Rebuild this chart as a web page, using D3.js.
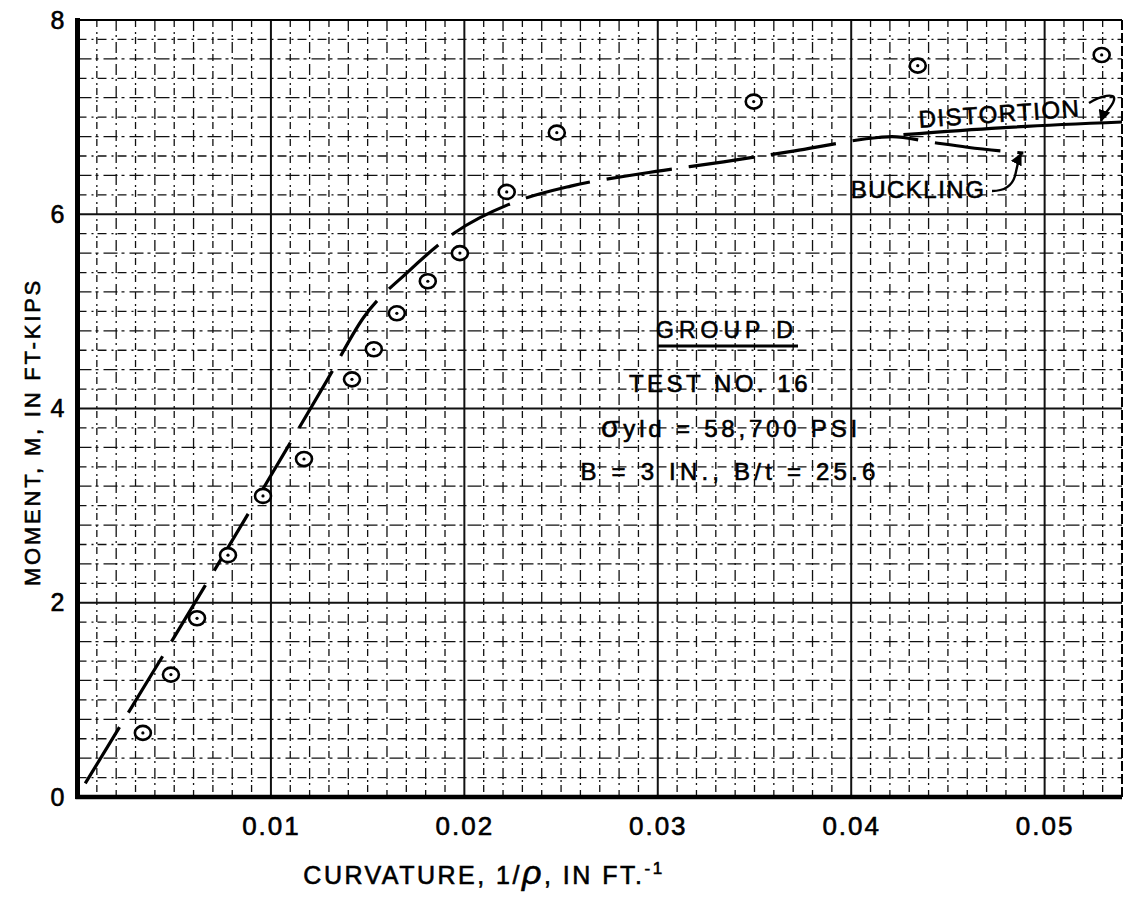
<!DOCTYPE html>
<html>
<head>
<meta charset="utf-8">
<script src="https://cdn.jsdelivr.net/npm/d3@7"></script>
<style>
  body { margin: 0; background: #fff; }
  svg { display: block; }
  text { font-family: "Liberation Sans", Arial, sans-serif; fill: #000; stroke: #000; stroke-width: 0.6px; }
</style>
</head>
<body>
<script>
// Data

// test points (curvature 1/rho in ft^-1, moment in ft-kips)
var curvature = [0.00338, 0.00483, 0.00618, 0.00778, 0.00959, 0.01171, 0.01419, 0.01532,
                 0.01651, 0.01811, 0.01977, 0.02219, 0.02478, 0.03496, 0.04344, 0.05295];
var moment = [0.66, 1.26, 1.84, 2.49, 3.10, 3.48, 4.30, 4.61,
              4.98, 5.31, 5.60, 6.23, 6.84, 7.16, 7.53, 7.64];

// predicted curve (dashed) up to the split
var predX = [0.0004, 0.0051, 0.0129, 0.0148, 0.0171, 0.0195, 0.0224, 0.0255, 0.0292, 0.0334, 0.0373, 0.0414];
var predY = [0.14, 1.68, 4.29, 4.94, 5.41, 5.81, 6.11, 6.29, 6.42, 6.54, 6.66, 6.79];

// buckling branch (dashed, falling)
var buckX = [0.0414, 0.0421, 0.0442, 0.0460, 0.0489];
var buckY = [6.79, 6.80, 6.74, 6.69, 6.63];

// distortion branch (solid, rising)
var distX = [0.0427, 0.0477, 0.0540];
var distY = [6.82, 6.89, 6.95];

var xTicks = [0.01, 0.02, 0.03, 0.04, 0.05];
var xTickLabels = ["0.01", "0.02", "0.03", "0.04", "0.05"];
var yTicks = [0, 2, 4, 6, 8];

var infoLines = ["TEST NO. 16", "yld = 58,700 PSI", "B = 3 IN., B/t = 25.6"];

// SVG
var width = 1127, height = 904;
var pLeft = 77.5, pRight = 1122, pTop = 20, pBottom = 797;

var svg = d3.select("body").append("svg").attr("width", width).attr("height", height);

var x = d3.scaleLinear().domain([0, 0.054]).range([pLeft, pRight]);
var y = d3.scaleLinear().domain([0, 8]).range([pBottom, pTop]);

// graph paper
var grid = svg.append("g");
var minorX = d3.range(1, 54).map(function(i) { return i / 1000; });
var minorY = d3.range(1, 40).map(function(i) { return i / 5; });

grid.selectAll("line.vx").data(minorX).enter().append("line")
    .attr("x1", function(d) { return x(d); }).attr("x2", function(d) { return x(d); })
    .attr("y1", pTop).attr("y2", pBottom)
    .attr("stroke", "#111")
    .attr("stroke-width", function(d) { return Math.round(d * 1000) % 10 == 0 ? 2 : 1.3; })
    .attr("stroke-dasharray", function(d, i) {
        if (Math.round(d * 1000) % 10 == 0) return null;
        return i % 2 ? "11,4,2,5" : "7,5,2,3";
    });

grid.selectAll("line.hy").data(minorY).enter().append("line")
    .attr("y1", function(d) { return y(d); }).attr("y2", function(d) { return y(d); })
    .attr("x1", pLeft).attr("x2", pRight)
    .attr("stroke", "#111")
    .attr("stroke-width", function(d) { return Math.round(d * 5) % 10 == 0 ? 2 : 1.3; })
    .attr("stroke-dasharray", function(d, i) {
        if (Math.round(d * 5) % 10 == 0) return null;
        return i % 2 ? "14,4,3,5" : "9,5,2,4";
    });

// frame
svg.append("line").attr("x1", pLeft).attr("x2", pRight).attr("y1", pTop).attr("y2", pTop)
    .attr("stroke", "#000").attr("stroke-width", 2.2);
svg.append("line").attr("x1", pRight).attr("x2", pRight).attr("y1", pTop).attr("y2", pBottom)
    .attr("stroke", "#000").attr("stroke-width", 2).attr("stroke-dasharray", "10,3");
svg.append("line").attr("x1", pLeft).attr("x2", pLeft).attr("y1", pTop - 2).attr("y2", pBottom + 2)
    .attr("stroke", "#000").attr("stroke-width", 5);
svg.append("line").attr("x1", pLeft - 2).attr("x2", pRight).attr("y1", pBottom).attr("y2", pBottom)
    .attr("stroke", "#000").attr("stroke-width", 4.5);

// axes labels (tick text only)
var xAxis = svg.append("g").attr("transform", "translate(0," + pBottom + ")")
    .call(d3.axisBottom(x).tickValues(xTicks).tickSize(0).tickPadding(20)
        .tickFormat(function(d, i) { return xTickLabels[i]; }));
xAxis.select(".domain").remove();
xAxis.selectAll("text").attr("font-size", 26).attr("letter-spacing", 2)
    .attr("font-family", "Liberation Sans, Arial, sans-serif").attr("fill", "#000");

var yAxis = svg.append("g").attr("transform", "translate(" + pLeft + ",0)")
    .call(d3.axisLeft(y).tickValues(yTicks).tickSize(0).tickPadding(13).tickFormat(d3.format("d")));
yAxis.select(".domain").remove();
yAxis.selectAll("text").attr("font-size", 25)
    .attr("font-family", "Liberation Sans, Arial, sans-serif").attr("fill", "#000");

// axis titles
var xt = svg.append("text").attr("x", 484).attr("y", 884).attr("text-anchor", "middle")
    .attr("font-size", 25).attr("letter-spacing", 2.5);
xt.append("tspan").text("CURVATURE, 1/");
xt.append("tspan").attr("font-size", 34).attr("font-style", "italic").text("ρ");
xt.append("tspan").text(", IN FT.");
xt.append("tspan").attr("font-size", 17).attr("dy", -10).text("-1");

svg.append("text").attr("transform", "translate(40,432) rotate(-90)")
    .attr("text-anchor", "middle").attr("font-size", 22).attr("letter-spacing", 2.8)
    .text("MOMENT, M, IN FT-KIPS");

// curves
var line = d3.line().x(function(d) { return x(d[0]); }).y(function(d) { return y(d[1]); })
    .curve(d3.curveMonotoneX);

svg.append("path").datum(d3.zip(predX, predY).concat(d3.zip(buckX, buckY).slice(1)))
    .attr("d", line).attr("fill", "none").attr("stroke", "#000").attr("stroke-width", 3.2)
    .attr("stroke-dasharray", "66,17");

svg.append("path").datum(d3.zip(distX, distY))
    .attr("d", line).attr("fill", "none").attr("stroke", "#000").attr("stroke-width", 3.2);

// test points
var pts = svg.append("g").selectAll("g").data(d3.zip(curvature, moment)).enter().append("g")
    .attr("transform", function(d) { return "translate(" + x(d[0]) + "," + y(d[1]) + ")"; });
pts.append("ellipse").attr("rx", 8).attr("ry", 7).attr("fill", "#fff")
    .attr("stroke", "#000").attr("stroke-width", 2.6);
pts.append("circle").attr("r", 1.6).attr("fill", "#000");

// annotations
var note = svg.append("g");
note.append("text").attr("x", 727).attr("y", 338).attr("text-anchor", "middle")
    .attr("font-size", 23).attr("letter-spacing", 5).text("GROUP D");
note.append("line").attr("x1", 658).attr("x2", 798).attr("y1", 346).attr("y2", 346)
    .attr("stroke", "#000").attr("stroke-width", 3);
note.append("text").attr("x", 720).attr("y", 392).attr("text-anchor", "middle")
    .attr("font-size", 24).attr("letter-spacing", 3.5).text(infoLines[0]);
var sig = note.append("text").attr("x", 731).attr("y", 437).attr("text-anchor", "middle")
    .attr("font-size", 24).attr("letter-spacing", 3.8);
sig.append("tspan").attr("font-size", 30).text("σ");
sig.append("tspan").text(infoLines[1]);
note.append("text").attr("x", 730).attr("y", 480).attr("text-anchor", "middle")
    .attr("font-size", 24).attr("letter-spacing", 4.2).text(infoLines[2]);

svg.append("defs").append("marker").attr("id", "ah")
    .attr("viewBox", "0 0 10 10").attr("refX", 9).attr("refY", 5)
    .attr("markerWidth", 5).attr("markerHeight", 5).attr("orient", "auto")
    .append("path").attr("d", "M0,0L10,5L0,10z").attr("fill", "#000");

svg.append("text").attr("transform", "translate(1000,122) rotate(-4)")
    .attr("text-anchor", "middle").attr("font-size", 24).attr("letter-spacing", 1.5)
    .text("DISTORTION");
svg.append("path").attr("d", "M1089,103 C1100,96 1116,92 1114,100 C1112,108 1104,112 1101,121")
    .attr("fill", "none").attr("stroke", "#000").attr("stroke-width", 2.4)
    .attr("marker-end", "url(#ah)");

svg.append("text").attr("x", 918).attr("y", 198).attr("text-anchor", "middle")
    .attr("font-size", 24).attr("letter-spacing", 1.5).text("BUCKLING");
svg.append("path").attr("d", "M992,191 C1004,191 1012,186 1015,176 C1017,168 1018,160 1021,154")
    .attr("fill", "none").attr("stroke", "#000").attr("stroke-width", 2.4)
    .attr("marker-end", "url(#ah)");
</script>
</body>
</html>
